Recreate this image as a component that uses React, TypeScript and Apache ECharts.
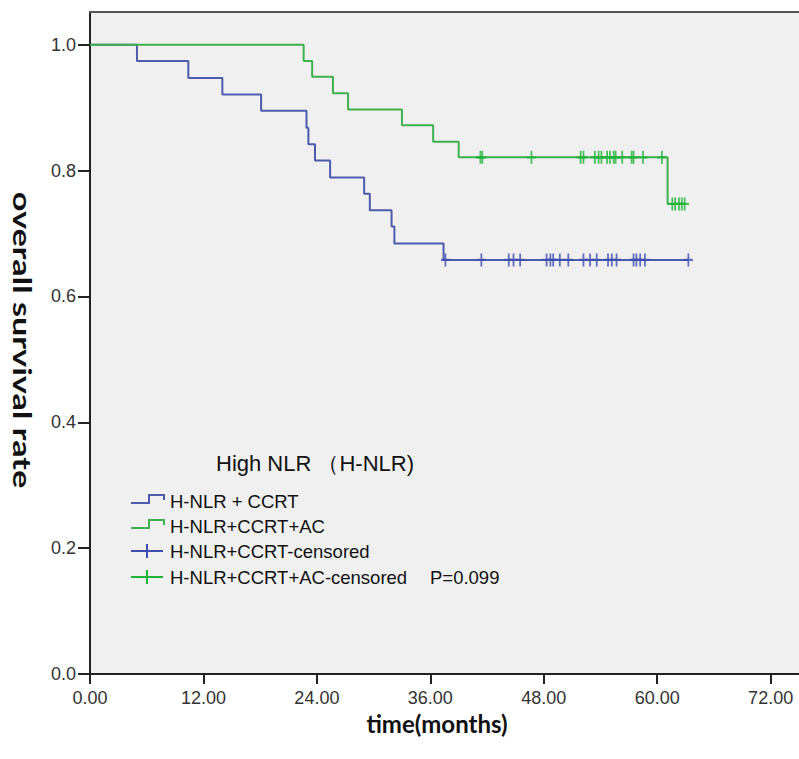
import React, { useEffect, useRef } from "react";
import * as echarts from "echarts";

// ---- data ----
const blueEventTimes = [0, 4.97, 10.4, 14.0, 18.1, 22.9, 23.1, 23.8, 25.4, 29.0, 29.6, 31.9, 32.2, 37.4];
const blueSurvival = [1, 0.974, 0.947, 0.921, 0.895, 0.868, 0.842, 0.816, 0.789, 0.763, 0.737, 0.711, 0.684, 0.658];
const blueCensorTimes = [37.6, 41.4, 44.3, 44.8, 45.5, 48.3, 48.7, 49.0, 49.7, 50.6, 52.2, 52.9, 53.6, 54.8, 55.2, 55.7, 57.5, 57.8, 58.2, 58.7, 63.3];

const greenEventTimes = [0, 22.6, 23.5, 25.7, 27.3, 33.0, 36.3, 39.0, 61.1];
const greenSurvival = [1, 0.974, 0.949, 0.923, 0.897, 0.872, 0.846, 0.821, 0.747];
const greenCensorTimes = [41.3, 41.5, 46.7, 51.9, 52.2, 53.4, 53.8, 54.1, 54.7, 55.0, 55.4, 55.6, 56.3, 57.3, 57.5, 58.5, 60.5, 61.6, 61.9, 62.3, 62.6, 62.9];

const xTicks = [0, 12, 24, 36, 48, 60, 72];
const yTicks = [0, 0.2, 0.4, 0.6, 0.8, 1.0];

const legendTitle = "High NLR （H-NLR)";
const legendNames = ["H-NLR + CCRT", "H-NLR+CCRT+AC", "H-NLR+CCRT-censored", "H-NLR+CCRT+AC-censored"];
const pValueText = "P=0.099";
const xTitle = "time(months)";
const yTitle = "overall survival rate";

const BLUE = "#4d5bab";
const GREEN = "#3fb04e";
const BLUE_C = "#3d4db0";
const GREEN_C = "#22b23a";

function survivalAt(times: number[], surv: number[], t: number) {
  let s = surv[0];
  for (let i = 0; i < times.length; i++) if (times[i] <= t) s = surv[i];
  return s;
}

function stepData(times: number[], surv: number[], end: number) {
  const d = times.map((t, i) => [t, surv[i]]);
  d.push([end, surv[surv.length - 1]]);
  return d;
}

const PLUS = "path://M4,0H6V12H4Z M0,5H10V7H0Z";

export default function App() {
  const ref = useRef<HTMLDivElement>(null);
  useEffect(() => {
    if (!ref.current) return;
    const chart = echarts.init(ref.current, null, { renderer: "svg" });
    const blueEnd = blueCensorTimes[blueCensorTimes.length - 1];
    const greenEnd = greenCensorTimes[greenCensorTimes.length - 1];
    const font = "Liberation Sans";
    const legendX = 131;
    const rowY = [501, 526, 551, 577];
    const stepIcon = (y: number) => [
      [legendX, y + 2],
      [legendX + 18, y + 2],
      [legendX + 18, y - 6],
      [legendX + 33, y - 6],
      [legendX + 33, y - 1],
    ];
    const plusIcon = (y: number, color: string) => [
      { type: "line", shape: { x1: legendX, y1: y, x2: legendX + 32, y2: y }, style: { stroke: color, lineWidth: 2 } },
      { type: "line", shape: { x1: legendX + 16, y1: y - 7, x2: legendX + 16, y2: y + 7 }, style: { stroke: color, lineWidth: 2 } },
    ];
    const option: any = {
      animation: false,
      backgroundColor: "#ffffff",
      grid: { left: 90, top: 12, right: 0, bottom: 85, show: true, backgroundColor: "#f0f0f0", borderWidth: 0 },
      xAxis: [
        {
          type: "value",
          min: 0,
          max: 75,
          axisLine: { show: true, onZero: false, lineStyle: { color: "#222", width: 2 } },
          axisTick: { show: true, length: 10, customValues: xTicks, lineStyle: { color: "#222", width: 2 } },
          axisLabel: {
            customValues: xTicks,
            formatter: (v: number) => v.toFixed(2),
            fontSize: 18,
            fontFamily: font,
            color: "#333",
            margin: 15,
          },
          splitLine: { show: false },
        },
        {
          type: "value",
          position: "top",
          min: 0,
          max: 75,
          axisLine: { show: true, onZero: false, lineStyle: { color: "#555", width: 2 } },
          axisTick: { show: false },
          axisLabel: { show: false },
          splitLine: { show: false },
        },
      ],
      yAxis: {
        type: "value",
        min: 0,
        max: 1.052,
        axisLine: { show: true, onZero: false, lineStyle: { color: "#222", width: 2 } },
        axisTick: { show: true, length: 12, customValues: yTicks, lineStyle: { color: "#222", width: 2 } },
        axisLabel: {
          customValues: yTicks,
          formatter: (v: number) => v.toFixed(1),
          fontSize: 18,
          fontFamily: font,
          color: "#333",
          margin: 14,
        },
        splitLine: { show: false },
      },
      series: [
        {
          type: "line",
          step: "end",
          data: stepData(blueEventTimes, blueSurvival, blueEnd),
          symbol: "none",
          lineStyle: { color: BLUE, width: 2 },
          z: 2,
        },
        {
          type: "line",
          step: "end",
          data: stepData(greenEventTimes, greenSurvival, greenEnd),
          symbol: "none",
          lineStyle: { color: GREEN, width: 2 },
          z: 2,
        },
        {
          type: "scatter",
          data: blueCensorTimes.map((t) => [t, survivalAt(blueEventTimes, blueSurvival, t)]),
          symbol: PLUS,
          symbolSize: [9, 13],
          itemStyle: { color: BLUE_C },
          z: 3,
        },
        {
          type: "scatter",
          data: greenCensorTimes.map((t) => [t, survivalAt(greenEventTimes, greenSurvival, t)]),
          symbol: PLUS,
          symbolSize: [9, 13],
          itemStyle: { color: GREEN_C },
          z: 3,
        },
      ],
      graphic: [
        {
          type: "text",
          x: 216,
          y: 463,
          style: { text: legendTitle, fontSize: 22, fontFamily: font, fill: "#111", align: "left", verticalAlign: "middle" },
        },
        { type: "polyline", shape: { points: stepIcon(rowY[0]) }, style: { stroke: BLUE, lineWidth: 2, fill: "none" } },
        { type: "polyline", shape: { points: stepIcon(rowY[1]) }, style: { stroke: GREEN, lineWidth: 2, fill: "none" } },
        ...plusIcon(rowY[2], BLUE_C),
        ...plusIcon(rowY[3], GREEN_C),
        ...legendNames.map((n, i) => ({
          type: "text",
          x: 170,
          y: rowY[i],
          style: { text: n, fontSize: 18.5, fontFamily: font, fill: "#111", align: "left", verticalAlign: "middle" },
        })),
        {
          type: "text",
          x: 430,
          y: rowY[3],
          style: { text: pValueText, fontSize: 18.5, fontFamily: font, fill: "#111", align: "left", verticalAlign: "middle" },
        },
        {
          type: "text",
          x: 437,
          y: 723,
          style: {
            text: xTitle,
            fontSize: 24,
            fontWeight: "bold",
            fontFamily: "Lato",
            fill: "#111",
            align: "center",
            verticalAlign: "middle",
          },
        },
        {
          type: "text",
          x: 23,
          y: 340,
          rotation: -Math.PI / 2,
          scaleX: 1.37,
          style: {
            text: yTitle,
            fontSize: 25,
            fontWeight: "bold",
            fontFamily: "Lato",
            fill: "#111",
            align: "center",
            verticalAlign: "middle",
          },
        },
      ],
    };
    chart.setOption(option);
    return () => chart.dispose();
  }, []);
  return <div ref={ref} style={{ position: "absolute", left: 0, top: 0, width: 799, height: 759 }} />;
}
